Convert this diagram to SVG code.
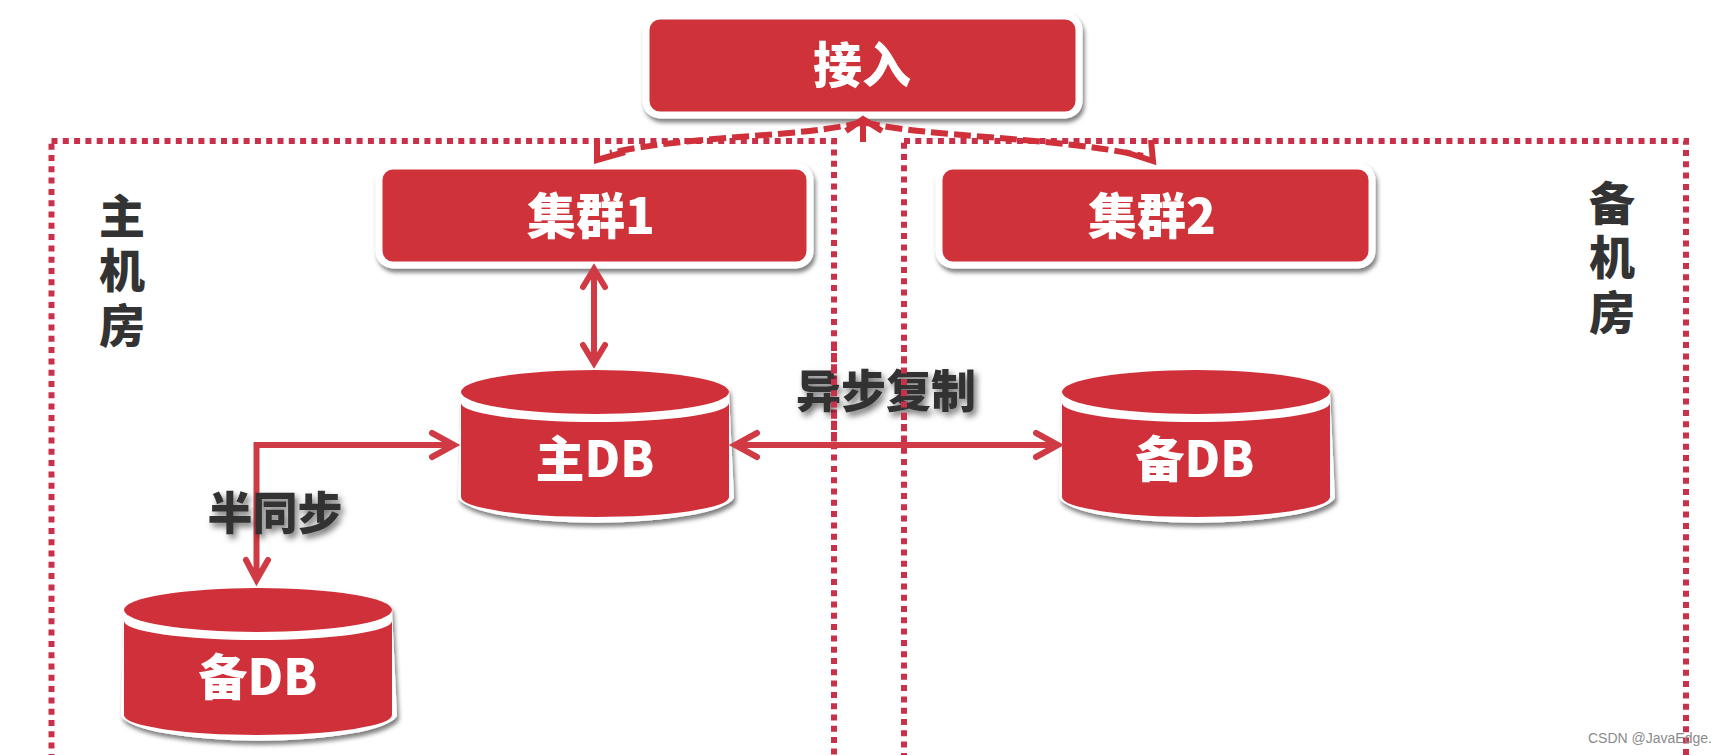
<svg xmlns="http://www.w3.org/2000/svg" width="1723" height="755" viewBox="0 0 1723 755">
<style>
text{font-family:"Noto Sans CJK SC","Noto Sans",sans-serif;font-weight:900;text-anchor:middle}
.w{fill:#fff;font-size:49px}
.d{fill:#333;font-size:45px}
.v{fill:#333;font-size:46px;writing-mode:vertical-rl;letter-spacing:8.5px}
.s{filter:url(#ts)}
.box{fill:#cf3039;stroke:#fff;stroke-width:7;filter:url(#sh)}
.red{fill:#cf3039}
.wht{fill:#fff}
.dot{fill:none;stroke:#c9304a;stroke-width:6;stroke-dasharray:6 5.3}
.ln{fill:none;stroke:#cf3a44;stroke-width:6;stroke-linecap:round;stroke-linejoin:miter}
.dash{fill:none;stroke:#cf3039;stroke-width:6;stroke-dasharray:17 6}
.sol{fill:none;stroke:#cf3039;stroke-width:6;stroke-linejoin:miter}
.wm{font-family:"Liberation Sans",Arial,sans-serif;font-weight:400;font-size:14px;fill:#8a8a8a;text-anchor:start}
</style>
<defs>
<filter id="sh" x="-5%" y="-10%" width="110%" height="125%"><feDropShadow dx="2" dy="4" stdDeviation="2" flood-color="#000" flood-opacity=".5"/></filter>
<filter id="ts" x="-20%" y="-20%" width="140%" height="150%"><feDropShadow dx="3" dy="4" stdDeviation="3" flood-color="#000" flood-opacity=".55"/></filter>
<g id="cyl">
<path class="wht" filter="url(#sh)" d="M0,22 A134,24 0 0 1 268,22 L273,128 A139,28 0 0 1 -3,128 Z"/>
<ellipse class="red" cx="134" cy="22" rx="134" ry="22"/>
<path class="red" d="M0,33 A134,19 0 0 0 268,33 L268,127 A134,20 0 0 1 0,127 Z"/>
</g>
</defs>
<rect width="1723" height="755" fill="#fff"/>

<g id="room-main"><rect class="dot" x="51.5" y="141" width="782.5" height="640"/>
<text class="v" x="122" y="274">主机房</text></g>
<g id="room-backup"><rect class="dot" x="904" y="141" width="782" height="640"/>
<text class="v" x="1612" y="261">备机房</text></g>

<g id="access"><rect class="box" x="646" y="16" width="433" height="99" rx="14"/><text class="w" x="862" y="83">接入</text></g>
<g id="cluster1"><rect class="box" x="379" y="166" width="431" height="99" rx="14"/><text class="w" x="591" y="234">集群1</text></g>
<g id="cluster2"><rect class="box" x="939" y="166" width="433" height="99" rx="14"/><text class="w" x="1152" y="234">集群2</text></g>

<g id="db-main"><use href="#cyl" x="461" y="370"/><text class="w" x="595" y="477">主DB</text></g>
<g id="db-backup-right"><use href="#cyl" x="1062" y="370"/><text class="w" x="1195" y="477">备DB</text></g>
<g id="db-backup-left"><use href="#cyl" x="124" y="588"/><text class="w" x="258" y="695">备DB</text></g>

<g id="connectors">
<path class="ln" d="M594,270 V362 M583,287 L594,269 L605,287 M583,345 L594,363 L605,345"/>
<path class="ln" d="M453,445 H256.5 V578 M432,433 L454,445 L432,457 M246,560 L256.5,580 L268,560"/>
<path class="ln" d="M737,445 H1056 M757,433 L735,445 L757,457 M1036,433 L1058,445 L1036,457"/>
<path class="dash" d="M863,122 C800,138 690,135 610,153"/>
<path class="dash" d="M863,122 C930,138 1050,136 1143,156"/>
<path class="sol" d="M863,142 V120 M846,131 L863,119 L882,131"/>
<path class="sol" d="M597,140 L597,160 L625,152"/>
<path class="sol" d="M1151,140 L1153,161 L1125,152"/>
</g>

<g id="label-bantongbu"><text class="d s" x="275" y="530">半同步</text></g>
<g id="label-yibu"><text class="d s" x="886" y="408">异步复制</text></g>
<path class="dot" d="M834,345 V445 M904,345 V445"/>

<text class="wm" x="1588" y="743">CSDN @JavaEdge.</text>
</svg>
